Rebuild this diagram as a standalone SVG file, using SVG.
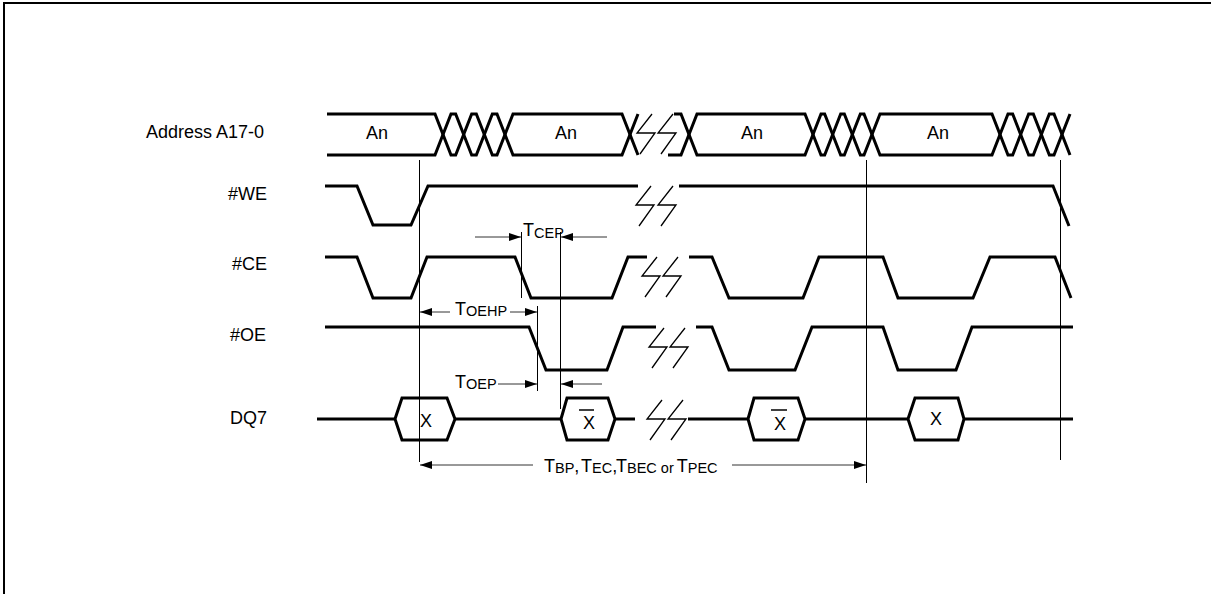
<svg xmlns="http://www.w3.org/2000/svg" width="1211" height="594" viewBox="0 0 1211 594">
<style>
.sig{fill:none;stroke:#000;stroke-width:3;stroke-linejoin:miter;stroke-linecap:butt}
.brk{fill:none;stroke:#000;stroke-width:1.3}
.ref{fill:none;stroke:#000;stroke-width:1}
.arr{fill:none;stroke:#333;stroke-width:1}
.lbl{font-family:"Liberation Sans",Arial,sans-serif;font-size:18px;fill:#000}
.sub{font-size:14.5px}
.hx{fill:#fff;stroke:#000;stroke-width:3}
</style>
<defs>
<marker id="ah" markerUnits="userSpaceOnUse" markerWidth="13" markerHeight="10" refX="12" refY="4" orient="auto">
<path d="M0,0 L12,4 L0,8 Z" fill="#000"/>
</marker>
<path id="bolt" d="M15,0 L0,19 L18,19 L3,40"/>
</defs>
<rect width="1211" height="594" fill="#fff"/>
<path d="M4,594 V3 H1211" fill="none" stroke="#000" stroke-width="2"/>

<g id="labels">
<text class="lbl" x="264" y="138" text-anchor="end">Address A17-0</text>
<text class="lbl" x="267" y="200" text-anchor="end">#WE</text>
<text class="lbl" x="267" y="270" text-anchor="end">#CE</text>
<text class="lbl" x="266" y="341" text-anchor="end">#OE</text>
<text class="lbl" x="267" y="424" text-anchor="end">DQ7</text>
</g>

<g id="address">
<path class="sig" d="M327,114 H435 L451,155 H455.67 L471.67,114 H476.33 L492.33,155 H497 L513,114 H622 L638,155"/>
<path class="sig" d="M327,155 H435 L451,114 H455.67 L471.67,155 H476.33 L492.33,114 H497 L513,155 H622 L638,114"/>
<path class="sig" d="M674,114 H681 L697,155 H805 L821,114 H824.67 L840.67,155 H844.33 L860.33,114 H864 L880,155 H992 L1008,114 H1012.67 L1028.67,155 H1033.33 L1049.33,114 H1054 L1070,155"/>
<path class="sig" d="M668,155 H681 L697,114 H805 L821,155 H824.67 L840.67,114 H844.33 L860.33,155 H864 L880,114 H992 L1008,155 H1012.67 L1028.67,114 H1033.33 L1049.33,155 H1054 L1070,114"/>
<use href="#bolt" class="brk" x="637" y="114"/>
<use href="#bolt" class="brk" x="658" y="114"/>
<text class="lbl" x="377" y="139" text-anchor="middle">An</text>
<text class="lbl" x="566" y="139" text-anchor="middle">An</text>
<text class="lbl" x="752" y="139" text-anchor="middle">An</text>
<text class="lbl" x="938" y="139" text-anchor="middle">An</text>
</g>

<g id="we">
<path class="sig" d="M325,186 H357 L373,225 H411 L428,186 H638"/>
<path class="sig" d="M679,186 H1053 L1069,226"/>
<use href="#bolt" class="brk" x="636" y="186"/>
<use href="#bolt" class="brk" x="658" y="186"/>
</g>

<g id="ce">
<path class="sig" d="M325,257 H357 L373,298 H411 L427,257 H515 L531,298 H612 L628,257 H647"/>
<path class="sig" d="M689,257 H712 L729,298 H803 L819,257 H883 L898,298 H973 L990,257 H1055 L1071,298"/>
<use href="#bolt" class="brk" x="642" y="257"/>
<use href="#bolt" class="brk" x="663" y="257"/>
</g>

<g id="oe">
<path class="sig" d="M325,327 H529 L546,370 H607 L623,327 H656"/>
<path class="sig" d="M696,327 H712 L729,370 H795 L812,327 H883 L898,370 H956 L972,327 H1073"/>
<use href="#bolt" class="brk" x="649" y="328"/>
<use href="#bolt" class="brk" x="670" y="328"/>
</g>

<g id="dq7">
<path class="sig" d="M317,419 H395 M455,419 H561 M615,419 H635 M688,419 H748 M805,419 H908 M964,419 H1073"/>
<polygon class="hx" points="395,419 402,398 447,398 455,419 447,440 402,440"/>
<polygon class="hx" points="561,419 567,398 608,398 615,419 608,440 567,440"/>
<polygon class="hx" points="748,419 754,398 798,398 805,419 798,440 754,440"/>
<polygon class="hx" points="908,419 915,398 958,398 964,419 958,440 915,440"/>
<use href="#bolt" class="brk" x="647" y="400"/>
<use href="#bolt" class="brk" x="668" y="400"/>
<text class="lbl" x="426" y="427" text-anchor="middle">X</text>
<text class="lbl" x="589" y="429" text-anchor="middle">X</text>
<line x1="579" y1="410" x2="594" y2="410" stroke="#000" stroke-width="1.5"/>
<text class="lbl" x="780" y="430" text-anchor="middle">X</text>
<line x1="771" y1="410" x2="787" y2="410" stroke="#000" stroke-width="1.5"/>
<text class="lbl" x="936" y="425" text-anchor="middle">X</text>
</g>

<g id="connectors">
<line class="ref" x1="419.5" y1="160" x2="419.5" y2="462"/>
<line class="ref" x1="521.5" y1="232" x2="521.5" y2="298"/>
<line class="ref" x1="560.5" y1="232" x2="560.5" y2="409"/>
<line class="ref" x1="537.5" y1="306" x2="537.5" y2="391"/>
<line class="ref" x1="866.5" y1="160" x2="866.5" y2="483"/>
<line class="ref" x1="1060.5" y1="160" x2="1060.5" y2="460"/>
<line class="arr" x1="475" y1="237" x2="521" y2="237" marker-end="url(#ah)"/>
<line class="arr" x1="607" y1="237" x2="561" y2="237" marker-end="url(#ah)"/>
<line class="arr" x1="450" y1="312" x2="420" y2="312" marker-end="url(#ah)"/>
<line class="arr" x1="510" y1="312" x2="537" y2="312" marker-end="url(#ah)"/>
<line class="arr" x1="498" y1="384" x2="537" y2="384" marker-end="url(#ah)"/>
<line class="arr" x1="602" y1="384" x2="561" y2="384" marker-end="url(#ah)"/>
<line class="arr" x1="533" y1="465" x2="420" y2="465" marker-end="url(#ah)"/>
<line class="arr" x1="732" y1="465" x2="866" y2="465" marker-end="url(#ah)"/>
<text class="lbl" x="523" y="236">T<tspan class="sub" dy="2">CEP</tspan></text>
<text class="lbl" x="455" y="315">T<tspan class="sub" dy="1">OEHP</tspan></text>
<text class="lbl" x="455" y="388">T<tspan class="sub" dy="1">OEP</tspan></text>
<text class="lbl" y="472"><tspan x="544">T</tspan><tspan class="sub" dy="1">BP</tspan><tspan dy="-1">,</tspan><tspan x="581">T</tspan><tspan class="sub" dy="1">EC</tspan><tspan dy="-1">,</tspan><tspan x="616">T</tspan><tspan class="sub" dy="1">BEC or</tspan><tspan dx="3" dy="-1">T</tspan><tspan class="sub" dy="1">PEC</tspan></text>
</g>
</svg>
